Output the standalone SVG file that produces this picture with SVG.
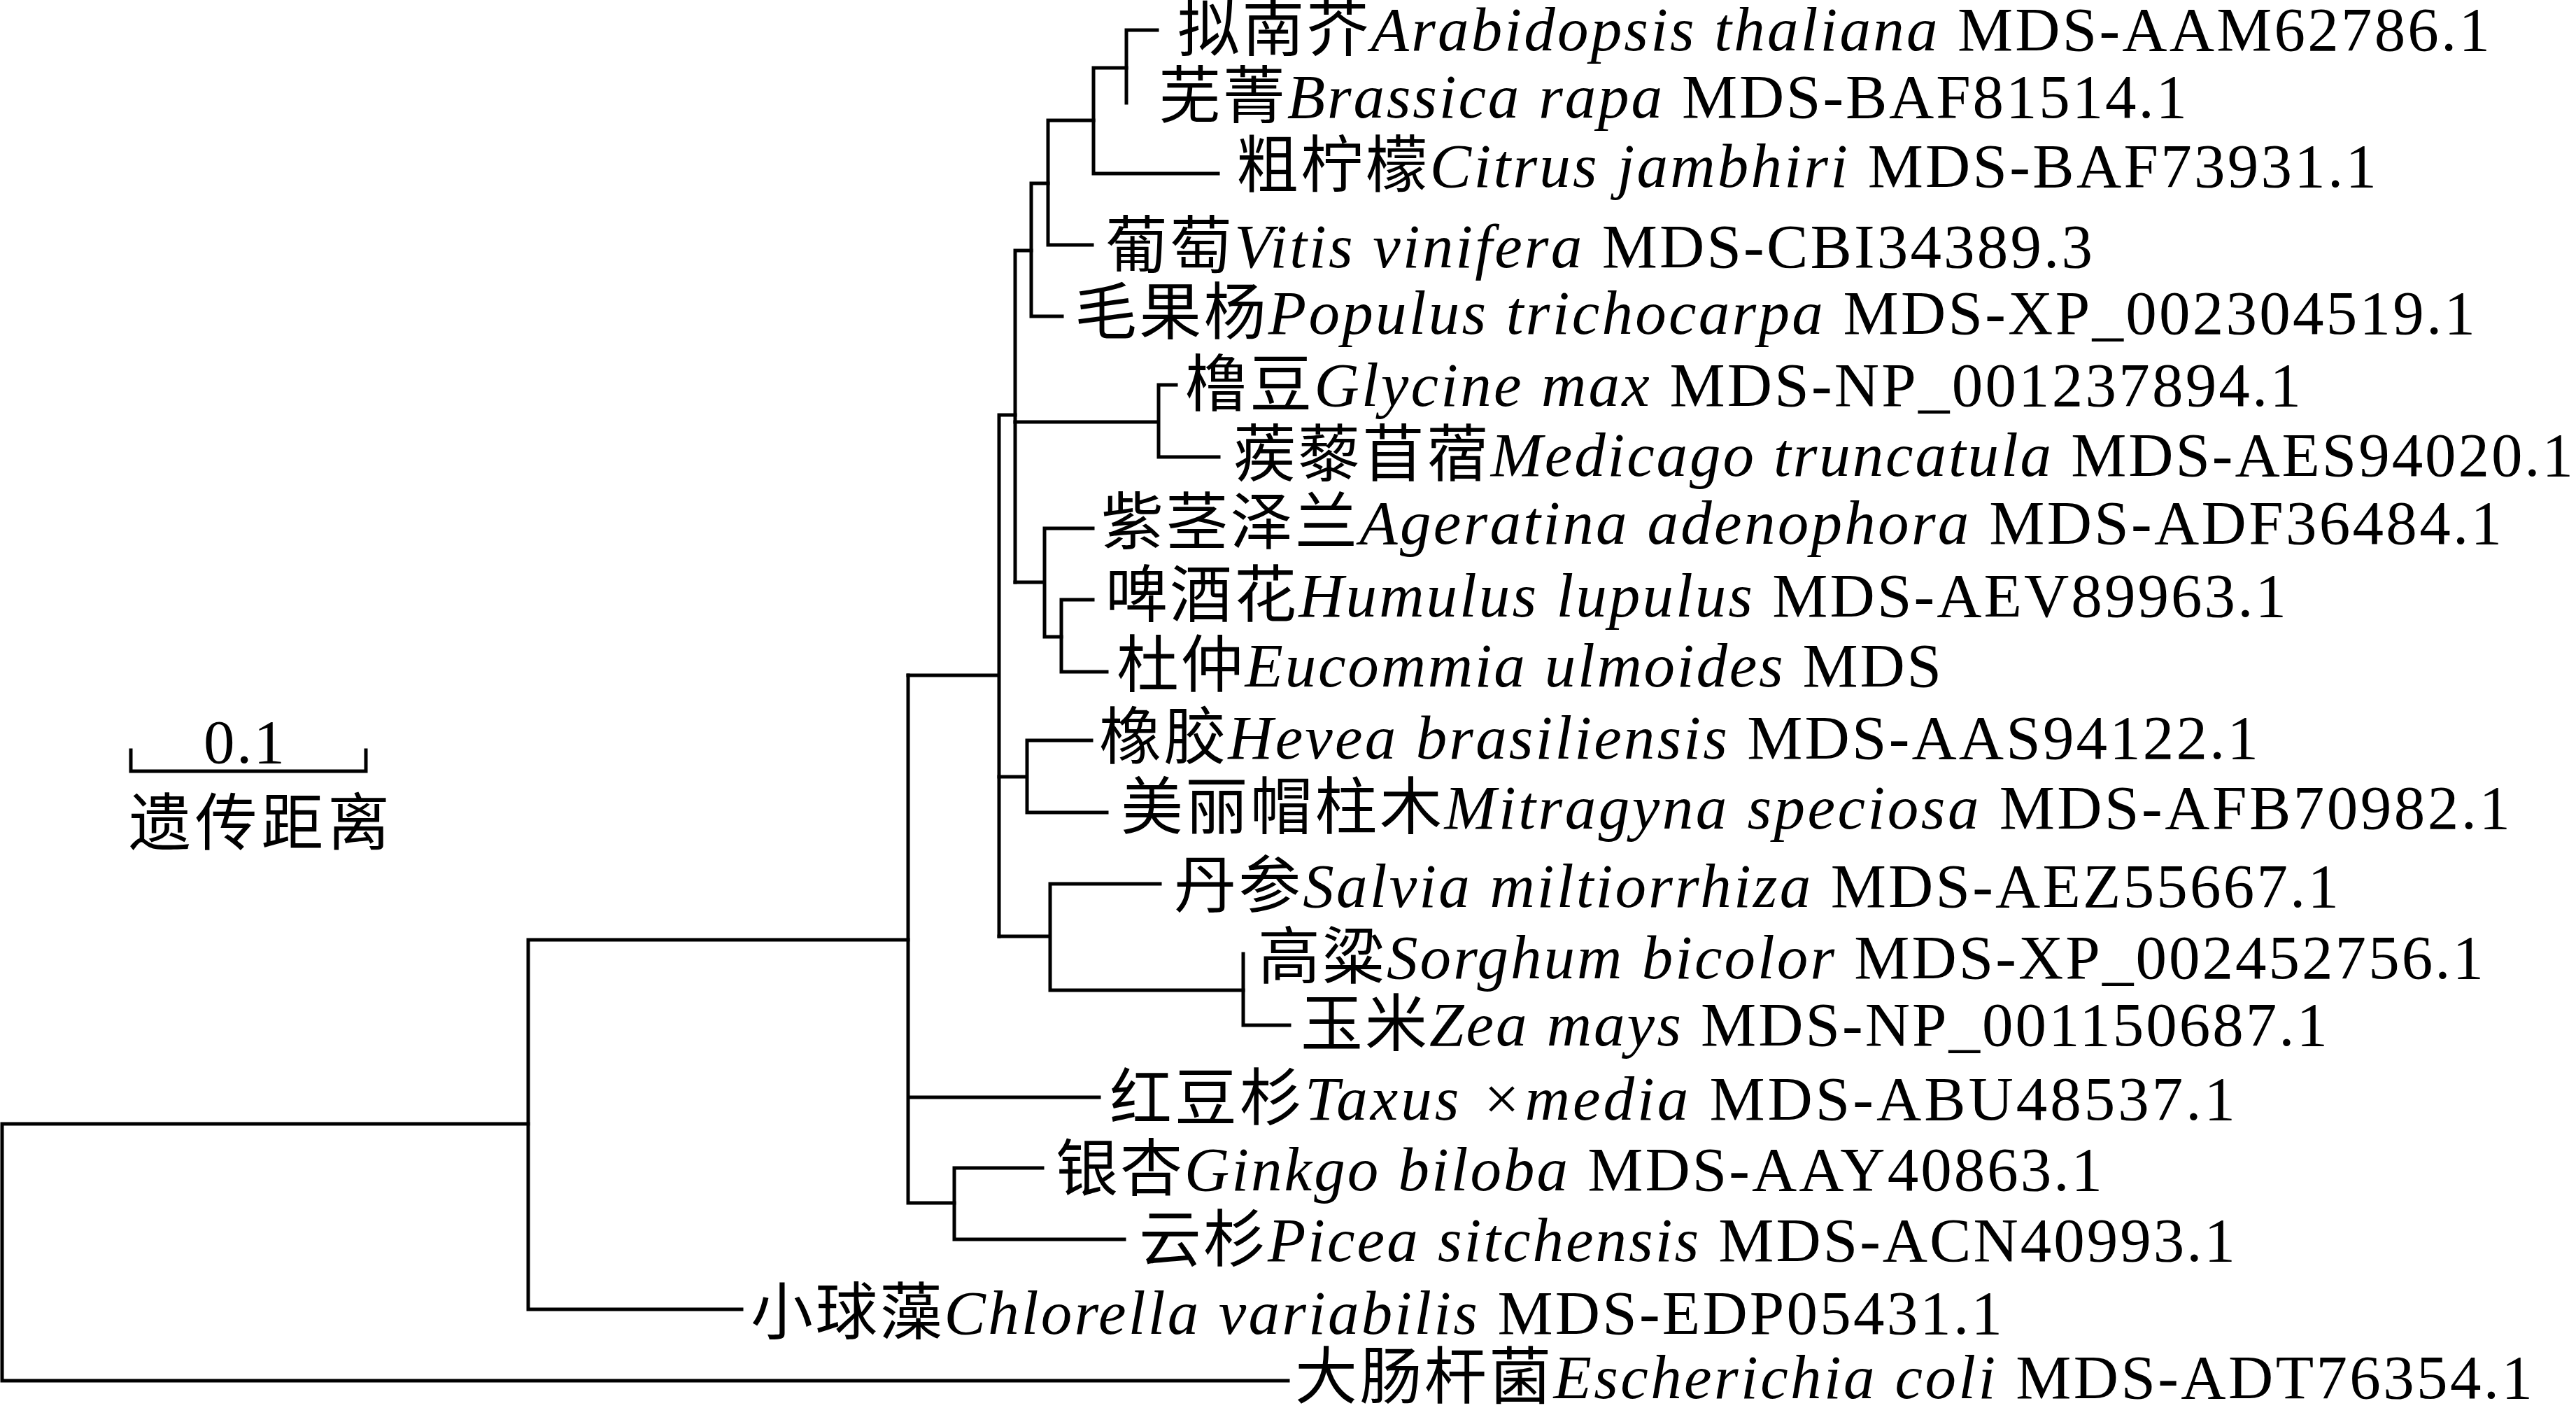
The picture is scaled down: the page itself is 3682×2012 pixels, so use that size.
<svg xmlns="http://www.w3.org/2000/svg" width="3682" height="2012" viewBox="0 0 3682 2012">
<style>
.br{fill:none;stroke:#000;stroke-width:5;stroke-linecap:square;stroke-linejoin:miter}
text{font-family:"Liberation Serif","Times New Roman","Noto Sans CJK SC",serif;font-size:89px;fill:#000}
.i{font-style:italic}
</style>
<rect width="3682" height="2012" fill="#fff"/>
<g id="connectors">
<path class="br" d="M3,1606 V1973 H1841 M3,1606 H755"/>
<path class="br" d="M755,1343 V1871 H1060 M755,1343 H1298"/>
<path class="br" d="M1298,965 V1719 M1298,1568 H1571 M1298,1719 H1364"/>
<path class="br" d="M1364,1669 V1771 H1607 M1364,1669 H1490"/>
<path class="br" d="M1298,965 H1428 M1428,593 V1338 M1428,593 H1451"/>
<path class="br" d="M1451,358 V832 M1451,358 H1474"/>
<path class="br" d="M1474,262 V452 H1518 M1474,262 H1498"/>
<path class="br" d="M1498,172 V350 H1561 M1498,172 H1563"/>
<path class="br" d="M1563,97 V248 H1741 M1563,97 H1610"/>
<path class="br" d="M1610,43 V147 M1610,43 H1654"/>
<path class="br" d="M1451,603 H1656 M1656,550 V653 H1742 M1656,550 H1681"/>
<path class="br" d="M1451,832 H1493 M1493,755 V910 H1517 M1493,755 H1562"/>
<path class="br" d="M1517,857 V960 H1582 M1517,857 H1562"/>
<path class="br" d="M1428,1110 H1468 M1468,1058 V1161 H1582 M1468,1058 H1560"/>
<path class="br" d="M1428,1338 H1501 M1501,1263 V1415 H1777 M1501,1263 H1658"/>
<path class="br" d="M1777,1363 V1465 H1843"/>
</g>
<g id="leaf-arabidopsis"><text x="1683" y="72" textLength="1876" lengthAdjust="spacing">拟南芥<tspan class="i">Arabidopsis thaliana</tspan> MDS-AAM62786.1</text></g>
<g id="leaf-brassica"><text x="1656" y="168" textLength="1470" lengthAdjust="spacing">芜菁<tspan class="i">Brassica rapa</tspan> MDS-BAF81514.1</text></g>
<g id="leaf-citrus"><text x="1767" y="267" textLength="1630" lengthAdjust="spacing">粗柠檬<tspan class="i">Citrus jambhiri</tspan> MDS-BAF73931.1</text></g>
<g id="leaf-vitis"><text x="1580" y="382" textLength="1411" lengthAdjust="spacing">葡萄<tspan class="i">Vitis vinifera</tspan> MDS-CBI34389.3</text></g>
<g id="leaf-populus"><text x="1536" y="477" textLength="2002" lengthAdjust="spacing">毛果杨<tspan class="i">Populus trichocarpa</tspan> MDS-XP_002304519.1</text></g>
<g id="leaf-glycine"><text x="1694" y="580" textLength="1595" lengthAdjust="spacing">橹豆<tspan class="i">Glycine max</tspan> MDS-NP_001237894.1</text></g>
<g id="leaf-medicago"><text x="1763" y="680" textLength="1915" lengthAdjust="spacing">蒺藜苜蓿<tspan class="i">Medicago truncatula</tspan> MDS-AES94020.1</text></g>
<g id="leaf-ageratina"><text x="1574" y="777" textLength="2002" lengthAdjust="spacing">紫茎泽兰<tspan class="i">Ageratina adenophora</tspan> MDS-ADF36484.1</text></g>
<g id="leaf-humulus"><text x="1580" y="881" textLength="1688" lengthAdjust="spacing">啤酒花<tspan class="i">Humulus lupulus</tspan> MDS-AEV89963.1</text></g>
<g id="leaf-eucommia"><text x="1596" y="981" textLength="1179" lengthAdjust="spacing">杜仲<tspan class="i">Eucommia ulmoides</tspan> MDS</text></g>
<g id="leaf-hevea"><text x="1571" y="1084" textLength="1657" lengthAdjust="spacing">橡胶<tspan class="i">Hevea brasiliensis</tspan> MDS-AAS94122.1</text></g>
<g id="leaf-mitragyna"><text x="1602" y="1184" textLength="1986" lengthAdjust="spacing">美丽帽柱木<tspan class="i">Mitragyna speciosa</tspan> MDS-AFB70982.1</text></g>
<g id="leaf-salvia"><text x="1678" y="1296" textLength="1665" lengthAdjust="spacing">丹参<tspan class="i">Salvia miltiorrhiza</tspan> MDS-AEZ55667.1</text></g>
<g id="leaf-sorghum"><text x="1798" y="1398" textLength="1752" lengthAdjust="spacing">高粱<tspan class="i">Sorghum bicolor</tspan> MDS-XP_002452756.1</text></g>
<g id="leaf-zea"><text x="1859" y="1494" textLength="1468" lengthAdjust="spacing">玉米<tspan class="i">Zea mays</tspan> MDS-NP_001150687.1</text></g>
<g id="leaf-taxus"><text x="1586" y="1600" textLength="1609" lengthAdjust="spacing">红豆杉<tspan class="i">Taxus ×media</tspan> MDS-ABU48537.1</text></g>
<g id="leaf-ginkgo"><text x="1509" y="1701" textLength="1496" lengthAdjust="spacing">银杏<tspan class="i">Ginkgo biloba</tspan> MDS-AAY40863.1</text></g>
<g id="leaf-picea"><text x="1628" y="1802" textLength="1567" lengthAdjust="spacing">云杉<tspan class="i">Picea sitchensis</tspan> MDS-ACN40993.1</text></g>
<g id="leaf-chlorella"><text x="1073" y="1906" textLength="1789" lengthAdjust="spacing">小球藻<tspan class="i">Chlorella variabilis</tspan> MDS-EDP05431.1</text></g>
<g id="leaf-ecoli"><text x="1851" y="1998" textLength="1769" lengthAdjust="spacing">大肠杆菌<tspan class="i">Escherichia coli</tspan> MDS-ADT76354.1</text></g>
<g id="scale-bar">
<path class="br" d="M187,1072 V1102 H523 V1072" stroke-linecap="butt"/>
<text x="291" y="1090" textLength="116" lengthAdjust="spacing">0.1</text>
<text x="184" y="1207" textLength="373" lengthAdjust="spacing">遗传距离</text>
</g>
</svg>
